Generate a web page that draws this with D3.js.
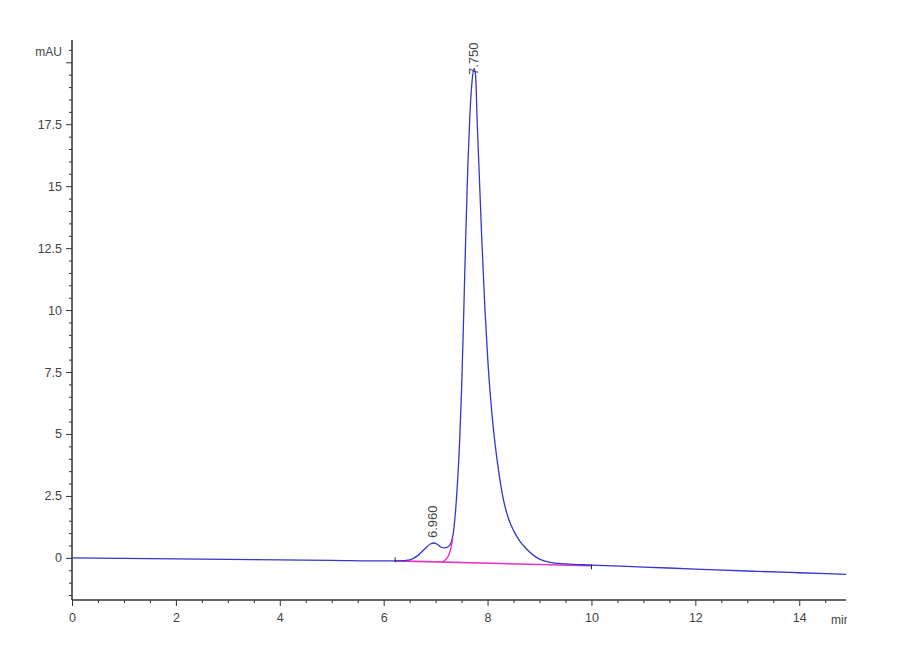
<!DOCTYPE html>
<html>
<head>
<meta charset="utf-8">
<script src="https://cdn.jsdelivr.net/npm/d3@7"></script>
<style>
  body { margin: 0; background: #fff; }
  svg text { font-family: "Liberation Sans", Arial, sans-serif; fill: #444; }
</style>
</head>
<body>
<svg id="chart" width="900" height="660"></svg>
<script>
// Chromatogram trace (min, mAU)
const traceTime = [0, 1, 2, 3, 4, 5, 6, 6.3, 6.5, 6.65, 6.8, 6.9, 6.96, 7.03, 7.1, 7.17, 7.24, 7.3,
  7.34, 7.38, 7.42, 7.46, 7.5, 7.54, 7.58, 7.62, 7.66, 7.7, 7.74, 7.77, 7.8, 7.83, 7.89,
  7.95, 8.01, 8.08, 8.15, 8.22, 8.3, 8.4, 8.5, 8.62, 8.75, 8.9, 9.0, 9.2, 9.5, 10, 11, 12, 13, 14, 15];
const traceMau = [0, -0.02, -0.04, -0.06, -0.08, -0.1, -0.12, -0.12, -0.08, 0.08, 0.38, 0.56, 0.6,
  0.55, 0.44, 0.4, 0.45, 0.62, 1.0, 1.8, 3.0, 4.6, 6.8, 9.8, 13.0, 15.8, 17.9, 19.2, 19.75,
  19.45, 17.6, 16.0, 12.8, 10.0, 7.8, 5.9, 4.5, 3.4, 2.4, 1.6, 1.1, 0.68, 0.36, 0.08, -0.05,
  -0.18, -0.24, -0.29, -0.37, -0.45, -0.53, -0.6, -0.67];

// Integration baseline (magenta) and skim curve under the leading edge of the main peak
const baseTime = [6.22, 10.0];
const baseMau = [-0.12, -0.32];
const skimTime = [7.12, 7.2, 7.26, 7.3, 7.33];
const skimMau = [-0.17, -0.05, 0.15, 0.45, 0.8];

// Integration start / end markers
const markTime = [6.22, 10.0];
const markMau = [-0.02, -0.3];

// Peak labels
const peakTime = [6.96, 7.75];
const peakMau = [0.6, 19.75];
const peakText = ['6.960', '7.750'];

const xMajor = [0, 2, 4, 6, 8, 10, 12, 14];
const yMajor = [0, 2.5, 5, 7.5, 10, 12.5, 15, 17.5, 20];
const yLabels = ['0', '2.5', '5', '7.5', '10', '12.5', '15', '17.5', ''];

const svg = d3.select('#chart');
const x = d3.scaleLinear().domain([0, 14.9]).range([72, 846]);
const y = d3.scaleLinear().domain([-1.7, 20.9]).range([600, 40]);

const axisColor = '#333';

// Minor ticks
const xMinor = d3.range(0, 14.9, 0.5).filter(v => v % 2 !== 0);
const yMinor = d3.range(-1.5, 20.9, 0.5).filter(v => v % 2.5 !== 0);

svg.append('g')
  .attr('transform', 'translate(0,600)')
  .call(d3.axisBottom(x).tickValues(xMinor).tickSize(3).tickFormat(''))
  .call(g => g.select('.domain').remove())
  .call(g => g.selectAll('line').attr('stroke', axisColor));

svg.append('g')
  .attr('transform', 'translate(72,0)')
  .call(d3.axisLeft(y).tickValues(yMinor).tickSize(3).tickFormat(''))
  .call(g => g.select('.domain').remove())
  .call(g => g.selectAll('line').attr('stroke', axisColor));

// Major ticks with labels
const xAxis = svg.append('g')
  .attr('transform', 'translate(0,600)')
  .call(d3.axisBottom(x).tickValues(xMajor).tickSize(6).tickSizeOuter(0).tickPadding(7));
xAxis.select('.domain').attr('stroke', axisColor).attr('stroke-width', 1.5)
  .attr('d', 'M72,0H846');
xAxis.selectAll('line').attr('stroke', axisColor);
xAxis.selectAll('text').attr('font-size', 12.5).attr('fill', '#444')
  .attr('font-family', '"Liberation Sans", Arial, sans-serif');

const yAxis = svg.append('g')
  .attr('transform', 'translate(72,0)')
  .call(d3.axisLeft(y).tickValues(yMajor).tickSize(6).tickSizeOuter(0).tickPadding(4)
    .tickFormat((d, i) => yLabels[i]));
yAxis.select('.domain').attr('stroke', axisColor).attr('stroke-width', 1.5)
  .attr('d', 'M0,600V40');
yAxis.selectAll('line').attr('stroke', axisColor);
yAxis.selectAll('text').attr('font-size', 12.5).attr('fill', '#444')
  .attr('font-family', '"Liberation Sans", Arial, sans-serif');

// Axis titles
svg.append('text')
  .attr('x', 62).attr('y', 56)
  .attr('text-anchor', 'end')
  .attr('font-size', 12)
  .text('mAU');

svg.append('clipPath').attr('id', 'unitclip')
  .append('rect').attr('x', 820).attr('y', 600).attr('width', 27).attr('height', 40);
svg.append('text')
  .attr('x', 831).attr('y', 624)
  .attr('font-size', 12)
  .attr('clip-path', 'url(#unitclip)')
  .text('min');

// Plot area clip so the trace stops at the end of the time axis
svg.append('clipPath').attr('id', 'plotclip')
  .append('rect').attr('x', 72).attr('y', 30).attr('width', 774).attr('height', 570);

const plot = svg.append('g').attr('clip-path', 'url(#plotclip)');

// Trace
const trace = traceTime.map((t, i) => [t, traceMau[i]]);
const line = d3.line().x(d => x(d[0])).y(d => y(d[1])).curve(d3.curveMonotoneX);

plot.append('path')
  .datum(baseTime.map((t, i) => [t, baseMau[i]]))
  .attr('d', d3.line().x(d => x(d[0])).y(d => y(d[1])))
  .attr('fill', 'none')
  .attr('stroke', '#e830c8')
  .attr('stroke-width', 1.6);

plot.append('path')
  .datum(trace)
  .attr('d', line)
  .attr('fill', 'none')
  .attr('stroke', '#3535d0')
  .attr('stroke-width', 1.3);

plot.append('path')
  .datum(skimTime.map((t, i) => [t, skimMau[i]]))
  .attr('d', d3.line().x(d => x(d[0])).y(d => y(d[1])).curve(d3.curveMonotoneX))
  .attr('fill', 'none')
  .attr('stroke', '#e830c8')
  .attr('stroke-width', 1.4);

// Integration event marks
svg.selectAll('.mark')
  .data(markTime)
  .enter()
  .append('line')
  .attr('class', 'mark')
  .attr('x1', d => x(d)).attr('x2', d => x(d))
  .attr('y1', (d, i) => y(markMau[i]) - 1)
  .attr('y2', (d, i) => y(markMau[i]) + 4)
  .attr('stroke', '#222')
  .attr('stroke-width', 1);

// Peak retention-time labels, rotated
svg.selectAll('.peak-label')
  .data(peakTime)
  .enter()
  .append('text')
  .attr('class', 'peak-label')
  .attr('font-size', 13)
  .attr('dominant-baseline', 'central')
  .attr('transform', (d, i) => {
    const py = Math.max(y(peakMau[i]) - 5, 75);
    return `translate(${x(d) - 1},${py}) rotate(-90)`;
  })
  .text((d, i) => peakText[i]);
</script>
</body>
</html>
